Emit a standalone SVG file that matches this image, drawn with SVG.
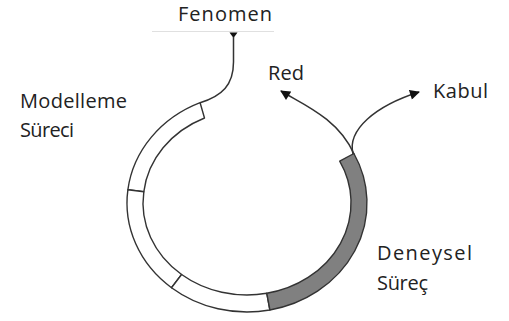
<svg xmlns="http://www.w3.org/2000/svg" width="509" height="321" viewBox="0 0 509 321">
<style>
  .lbl { font-family: "Open Sans", "Liberation Sans", sans-serif; font-size: 20px; fill: #222; }
  .seg { fill: #fff; stroke: #333; stroke-width: 1.4; stroke-linejoin: round; }
  .seg.gray { fill: #808080; }
  .con { fill: none; stroke: #333; stroke-width: 1.5; }
</style>
<defs>
  <marker id="arr" viewBox="0 0 10 10" refX="9" refY="5" markerWidth="11" markerHeight="10" markerUnits="userSpaceOnUse" orient="auto">
    <path d="M0,0 L10,5 L0,10 Z" fill="#111"/>
  </marker>
</defs>
<rect width="509" height="321" fill="#fff"/>

<g id="fenomen">
  <text class="lbl" x="178" y="21" textLength="94" lengthAdjust="spacing">Fenomen</text>
  <line x1="152" y1="31.5" x2="274" y2="31.5" stroke="#e0e0e0" stroke-width="1"/>
</g>

<g id="ring">
  <g id="seg-model-1"><path class="seg" d="M127.9,189.7 A120,109 0 0,1 200.1,102.7 L204.5,118 A104,92 0 0,0 143.8,191.8 Z"/></g>
  <g id="seg-model-2"><path class="seg" d="M171.5,287.7 A120,109 0 0,1 127.9,189.7 L143.8,191.8 A104,92 0 0,0 181.6,274.5 Z"/></g>
  <g id="seg-model-3"><path class="seg" d="M269.9,310.0 A120,109 0 0,1 171.5,287.7 L181.6,274.5 A104,92 0 0,0 266.8,293.3 Z"/></g>
  <g id="seg-deneysel"><path class="seg gray" d="M353.9,153.5 A120,109 0 0,1 269.9,310.0 L266.8,293.3 A104,92 0 0,0 339.7,161.2 Z"/></g>
</g>

<g id="modelleme">
  <text class="lbl" x="20" y="108" textLength="107" lengthAdjust="spacing">Modelleme</text>
  <text class="lbl" x="20" y="137" textLength="54" lengthAdjust="spacing">Süreci</text>
</g>
<g id="red">
  <text class="lbl" x="268" y="80" textLength="36" lengthAdjust="spacing">Red</text>
</g>
<g id="kabul">
  <text class="lbl" x="433" y="98" textLength="55" lengthAdjust="spacing">Kabul</text>
</g>
<g id="deneysel">
  <text class="lbl" x="377" y="260" textLength="95" lengthAdjust="spacing">Deneysel</text>
  <text class="lbl" x="377" y="290" textLength="51" lengthAdjust="spacing">Süreç</text>
</g>

<g id="connectors">
  <polygon points="229.5,32.5 237.5,32.5 233.5,38" fill="#111"/>
  <path class="con" d="M233.5,37 L233.5,62 C233.5,85 222,96 200.1,102.7"/>
  <path class="con" d="M354,154 C338,118 302,104 281,91" marker-end="url(#arr)"/>
  <path class="con" d="M353,154 C347,130 375,106 419,92" marker-end="url(#arr)"/>
</g>
</svg>
